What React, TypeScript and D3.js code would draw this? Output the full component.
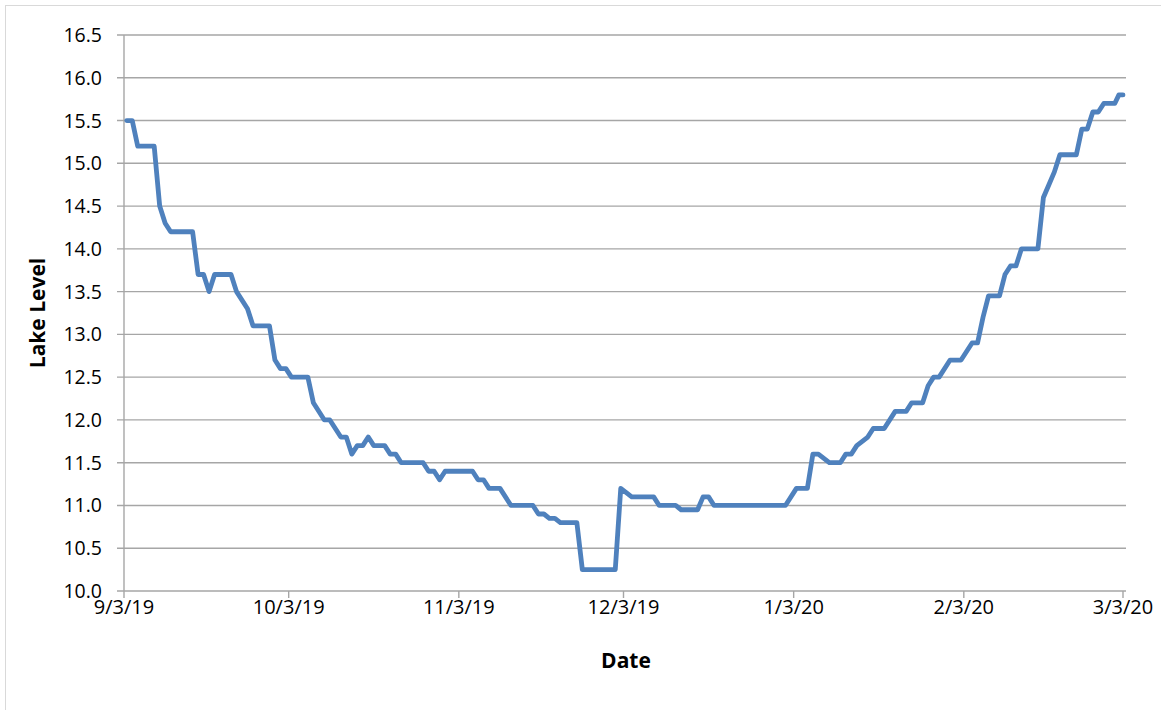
import React from "react";
import * as d3 from "d3";

// Readings (date/time of reading, lake level)
const dates: string[] = [
  "2019-09-03T12","2019-09-04T12","2019-09-05T12","2019-09-08T12","2019-09-09T12","2019-09-10T12","2019-09-11T12","2019-09-15T12",
  "2019-09-16T12","2019-09-17T12","2019-09-18T12","2019-09-19T12","2019-09-22T12","2019-09-23T12","2019-09-25T12","2019-09-26T12",
  "2019-09-29T12","2019-09-30T12","2019-10-01T12","2019-10-02T12","2019-10-03T12","2019-10-06T12","2019-10-07T12","2019-10-09T12",
  "2019-10-10T12","2019-10-12T12","2019-10-13T12","2019-10-14T12","2019-10-15T12","2019-10-16T12","2019-10-17T12","2019-10-18T12",
  "2019-10-20T12","2019-10-21T12","2019-10-22T12","2019-10-23T12","2019-10-27T12","2019-10-28T12","2019-10-29T12","2019-10-30T12",
  "2019-10-31T12","2019-11-05T12","2019-11-06T12","2019-11-07T12","2019-11-08T12","2019-11-10T12","2019-11-12T12","2019-11-16T12",
  "2019-11-17T12","2019-11-18T12","2019-11-19T12","2019-11-20T12","2019-11-21T12","2019-11-24T12","2019-11-25T12","2019-12-01T12",
  "2019-12-02T12","2019-12-04T12","2019-12-08T12","2019-12-09T12","2019-12-12T12","2019-12-13T12","2019-12-16T12","2019-12-17T12",
  "2019-12-18T12","2019-12-19T12","2020-01-01T12","2020-01-03T12","2020-01-05T12","2020-01-06T12","2020-01-07T12","2020-01-09T12",
  "2020-01-11T12","2020-01-12T12","2020-01-13T12","2020-01-14T12","2020-01-16T12","2020-01-17T12","2020-01-19T12","2020-01-21T12",
  "2020-01-23T12","2020-01-24T12","2020-01-26T12","2020-01-27T12","2020-01-28T12","2020-01-29T12","2020-01-31T12","2020-02-02T12",
  "2020-02-04T12","2020-02-05T12","2020-02-06T12","2020-02-07T12","2020-02-09T12","2020-02-10T12","2020-02-11T12","2020-02-12T12",
  "2020-02-13T12","2020-02-16T12","2020-02-17T12","2020-02-18T12","2020-02-19T12","2020-02-20T12","2020-02-23T12","2020-02-24T12",
  "2020-02-25T12","2020-02-26T12","2020-02-27T12","2020-02-28T12","2020-03-01T12","2020-03-02T06","2020-03-03T00",
];

const levels: number[] = [
  15.5, 15.5, 15.2, 15.2, 14.5, 14.3, 14.2, 14.2,
  13.7, 13.7, 13.5, 13.7, 13.7, 13.5, 13.3, 13.1,
  13.1, 12.7, 12.6, 12.6, 12.5, 12.5, 12.2, 12.0,
  12.0, 11.8, 11.8, 11.6, 11.7, 11.7, 11.8, 11.7,
  11.7, 11.6, 11.6, 11.5, 11.5, 11.4, 11.4, 11.3,
  11.4, 11.4, 11.3, 11.3, 11.2, 11.2, 11.0, 11.0,
  10.9, 10.9, 10.85, 10.85, 10.8, 10.8, 10.25, 10.25,
  11.2, 11.1, 11.1, 11.0, 11.0, 10.95, 10.95, 11.1,
  11.1, 11.0, 11.0, 11.2, 11.2, 11.6, 11.6, 11.5,
  11.5, 11.6, 11.6, 11.7, 11.8, 11.9, 11.9, 12.1,
  12.1, 12.2, 12.2, 12.4, 12.5, 12.5, 12.7, 12.7,
  12.9, 12.9, 13.2, 13.45, 13.45, 13.7, 13.8, 13.8,
  14.0, 14.0, 14.6, 14.75, 14.9, 15.1, 15.1, 15.4,
  15.4, 15.6, 15.6, 15.7, 15.7, 15.8, 15.8,
];

const xTickDates: string[] = ["2019-09-03T00","2019-10-03T00","2019-11-03T00","2019-12-03T00","2020-01-03T00","2020-02-03T00","2020-03-03T00"];
const xTickLabels: string[] = ["9/3/19","10/3/19","11/3/19","12/3/19","1/3/20","2/3/20","3/3/20"];
const yTicks: number[] = [10.0, 10.5, 11.0, 11.5, 12.0, 12.5, 13.0, 13.5, 14.0, 14.5, 15.0, 15.5, 16.0, 16.5];

const xTitle = "Date";
const yTitle = "Lake Level";

const W = 1161;
const H = 710;
const FONT = "'Open Sans', 'Liberation Sans', Arial, sans-serif";

export default function App() {
  const parse = d3.timeParse("%Y-%m-%dT%H");
  const left = 124, right = 1123, top = 35, bottom = 591;
  const x = d3.scaleTime()
    .domain([parse(xTickDates[0]) as Date, parse(xTickDates[xTickDates.length - 1]) as Date])
    .range([left, right]);
  const y = d3.scaleLinear().domain([10, 16.5]).range([bottom, top]);

  const pts = dates.map((d, i) => ({ date: parse(d) as Date, v: levels[i] }));
  const line = d3.line<{ date: Date; v: number }>()
    .x((d) => x(d.date))
    .y((d) => y(d.v));

  const grid = "#a6a6a6";

  return (
    <svg width={W} height={H} style={{ position: "absolute", left: 0, top: 0 }}>
      <rect x={0} y={0} width={W} height={H} fill="#ffffff" />
      <rect x={5.5} y={5.5} width={W + 10} height={H + 10} fill="none" stroke="#d9d9d9" strokeWidth={1} />
      {yTicks.map((t) => (
        <g key={"y" + t}>
          <line x1={left - 7} x2={right + 3} y1={y(t)} y2={y(t)} stroke={grid} strokeWidth={1.4} />
          <text x={102} y={y(t) + 7} textAnchor="end" fontFamily={FONT} fontSize={19.5} fill="#000">
            {t.toFixed(1)}
          </text>
        </g>
      ))}
      <line x1={left} x2={left} y1={top} y2={bottom} stroke={grid} strokeWidth={1.4} />
      {xTickDates.map((d, i) => {
        const xx = x(parse(d) as Date);
        return (
          <g key={"x" + d}>
            <line x1={xx} x2={xx} y1={bottom} y2={bottom + 7} stroke={grid} strokeWidth={1.4} />
            <text x={xx} y={614} textAnchor="middle" fontFamily={FONT} fontSize={20} fill="#000">
              {xTickLabels[i]}
            </text>
          </g>
        );
      })}
      <path d={line(pts) || ""} fill="none" stroke="#4f81bd" strokeWidth={4.8} strokeLinejoin="round" strokeLinecap="round" />
      <text x={626} y={668} textAnchor="middle" fontFamily={FONT} fontSize={21} fontWeight="bold" fill="#000">
        {xTitle}
      </text>
      <text
        transform={`translate(45, 313) rotate(-90)`}
        textAnchor="middle"
        fontFamily={FONT}
        fontSize={21}
        fontWeight="bold"
        fill="#000"
      >
        {yTitle}
      </text>
    </svg>
  );
}
